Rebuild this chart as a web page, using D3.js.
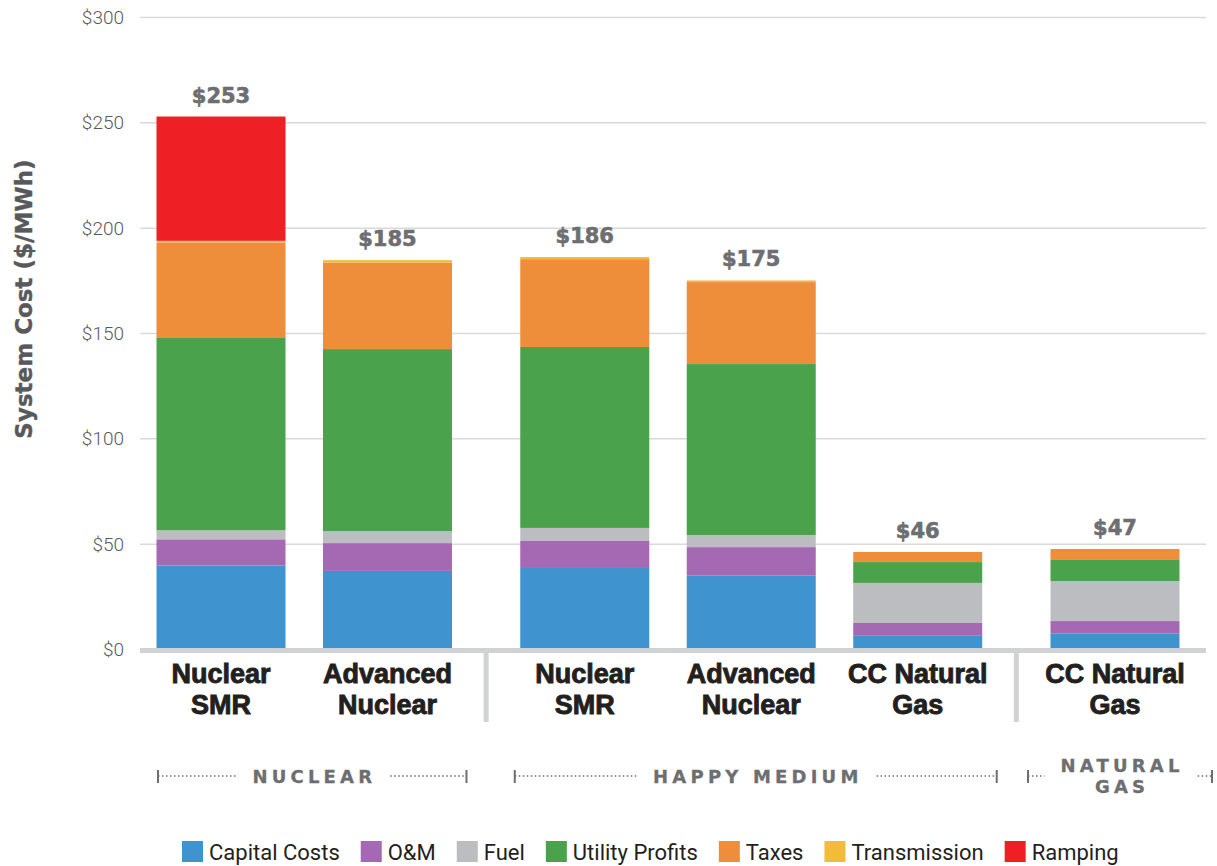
<!DOCTYPE html>
<html>
<head>
<meta charset="utf-8">
<script src="https://cdn.jsdelivr.net/npm/d3@7"></script>
<style>
  body { margin: 0; background: #fff; }
  svg { display: block; }
</style>
</head>
<body>
<div class="chart"></div>
<script>
// values ($/MWh)
var categories = [["Nuclear", "SMR"], ["Advanced", "Nuclear"], ["Nuclear", "SMR"],
                  ["Advanced", "Nuclear"], ["CC Natural", "Gas"], ["CC Natural", "Gas"]];
var groupOf = [0, 0, 1, 1, 1, 2];
var groupNames = [["NUCLEAR"], ["HAPPY MEDIUM"], ["NATURAL", "GAS"]];

var seriesNames = ["Capital Costs", "O&M", "Fuel", "Utility Profits", "Taxes", "Transmission", "Ramping"];
var seriesColors = ["#3f93cf", "#a569b4", "#bcbdc0", "#4aa34c", "#ee8e3a", "#f2bb3a", "#ee1f25"];

var capital      = [39.8, 37.3, 38.7, 35.2, 6.5, 7.5];
var om           = [12.5, 13.2, 12.8, 13.4, 6.1, 6.0];
var fuel         = [4.3, 5.7, 6.2, 5.7, 19.0, 19.0];
var utility      = [91.6, 86.4, 85.9, 81.2, 9.9, 10.0];
var taxes        = [45.0, 41.0, 41.7, 38.9, 4.8, 5.2];
var transmission = [0.8, 1.2, 1.0, 0.8, 0, 0];
var ramping      = [59.0, 0, 0, 0, 0, 0];

var totalLabels = ["$253", "$185", "$186", "$175", "$46", "$47"];
var yTicks = [0, 50, 100, 150, 200, 250, 300];

var W = 1217, H = 866;
var plotLeft = 140, plotRight = 1206;
var barWidth = 129;
var groupGap = 0.185;

var svg = d3.select(".chart").append("svg")
    .attr("width", W)
    .attr("height", H);

// build the table for d3.stack
var seriesData = [capital, om, fuel, utility, taxes, transmission, ramping];
var table = categories.map(function (c, i) {
    var row = { idx: i };
    seriesNames.forEach(function (s, k) { row[s] = seriesData[k][i]; });
    return row;
});
var stacked = d3.stack().keys(seriesNames)(table);

// x position: one slot per bar plus a gap between groups
var slot = categories.map(function (c, i) { return i + groupOf[i] * groupGap; });
var x = d3.scaleLinear()
    .domain([0, 5 + 2 * groupGap])
    .range([221, 1115]);
var y = d3.scaleLinear().domain([0, 300]).range([649.5, 17.5]);

// gridlines
svg.append("g").selectAll("line")
    .data(yTicks.filter(function (d) { return d > 0; }))
    .enter().append("line")
    .attr("x1", plotLeft).attr("x2", plotRight)
    .attr("y1", function (d) { return y(d); })
    .attr("y2", function (d) { return y(d); })
    .attr("stroke", "#d9d9d9")
    .attr("stroke-width", 1.5);

// y tick labels
var yAxis = svg.append("g")
    .attr("transform", "translate(124,0)")
    .call(d3.axisLeft(y).tickValues(yTicks).tickSize(0).tickPadding(0)
        .tickFormat(function (d) { return "$" + d; }));
yAxis.select(".domain").remove();
yAxis.selectAll("text")
    .attr("font-family", "Roboto, 'Liberation Sans', sans-serif")
    .attr("font-weight", 300)
    .attr("font-size", 19)
    .attr("fill", "#58595b");

// y title
svg.append("text")
    .attr("transform", "translate(32,299) rotate(-90)")
    .attr("text-anchor", "middle")
    .attr("font-family", "'DejaVu Sans', sans-serif")
    .attr("font-weight", "bold")
    .attr("font-size", 23)
    .attr("fill", "#58595b")
    .attr("stroke", "#58595b")
    .attr("stroke-width", 0.4)
    .text("System Cost ($/MWh)");

// stacked bars
svg.append("g").selectAll("g")
    .data(stacked)
    .enter().append("g")
    .attr("fill", function (d, k) { return seriesColors[k]; })
    .selectAll("rect")
    .data(function (d) { return d; })
    .enter().append("rect")
    .attr("x", function (d) { return x(slot[d.data.idx]) - barWidth / 2; })
    .attr("width", barWidth)
    .attr("y", function (d) { return y(d[1]); })
    .attr("height", function (d) { return y(d[0]) - y(d[1]); });

// totals above bars
var totals = table.map(function (r) {
    return d3.sum(seriesNames, function (s) { return r[s]; });
});
svg.append("g").selectAll("text")
    .data(totalLabels)
    .enter().append("text")
    .attr("x", function (d, i) { return x(slot[i]); })
    .attr("y", function (d, i) { return y(totals[i]) - 14; })
    .attr("text-anchor", "middle")
    .attr("font-family", "'DejaVu Sans', sans-serif")
    .attr("font-weight", "bold")
    .attr("font-size", 21)
    .attr("fill", "#6d6e71")
    .attr("stroke", "#6d6e71")
    .attr("stroke-width", 0.6)
    .text(function (d) { return d; });

// baseline
svg.append("line")
    .attr("x1", plotLeft).attr("x2", plotRight)
    .attr("y1", y(0) + 1).attr("y2", y(0) + 1)
    .attr("stroke", "#d1d2d4")
    .attr("stroke-width", 5);

// group separators
var seps = [];
for (var i = 1; i < categories.length; i++) {
    if (groupOf[i] !== groupOf[i - 1]) seps.push((x(slot[i]) + x(slot[i - 1])) / 2);
}
svg.append("g").selectAll("line")
    .data(seps)
    .enter().append("line")
    .attr("x1", function (d) { return d; }).attr("x2", function (d) { return d; })
    .attr("y1", y(0) + 1).attr("y2", 722)
    .attr("stroke", "#d1d2d4")
    .attr("stroke-width", 5);

// category labels
var cat = svg.append("g").selectAll("text")
    .data(categories)
    .enter().append("text")
    .attr("text-anchor", "middle")
    .attr("font-family", "'Liberation Sans', Arial, sans-serif")
    .attr("font-weight", "bold")
    .attr("font-size", 27)
    .attr("fill", "#231f20")
    .attr("stroke", "#231f20")
    .attr("stroke-width", 0.9);
cat.selectAll("tspan")
    .data(function (d, i) { return d.map(function (t) { return { t: t, i: i }; }); })
    .enter().append("tspan")
    .attr("x", function (d) { return x(slot[d.i]); })
    .attr("y", function (d, k) { return 683 + k * 31; })
    .text(function (d) { return d.t; });

// group brackets (outward extension past the outer bars)
var bracketPad = [[-1.5, 14.5], [5.5, 14.5], [22.5, 32.5]];
var bracketY = 776;
groupNames.forEach(function (name, g) {
    var idx = d3.range(categories.length).filter(function (i) { return groupOf[i] === g; });
    var left = x(slot[idx[0]]) - barWidth / 2 - bracketPad[g][0];
    var right = x(slot[idx[idx.length - 1]]) + barWidth / 2 + bracketPad[g][1];
    var mid = (left + right) / 2;
    var bg = svg.append("g");

    var label = bg.append("text")
        .attr("text-anchor", "middle")
        .attr("font-family", "'DejaVu Sans', sans-serif")
        .attr("font-weight", "bold")
        .attr("font-size", 18)
        .attr("letter-spacing", 4.2)
        .attr("fill", "#6d6e71")
        .attr("stroke", "#6d6e71")
        .attr("stroke-width", 0.3);
    label.selectAll("tspan")
        .data(name)
        .enter().append("tspan")
        .attr("x", mid + 2.1)
        .attr("y", function (d, k) {
            return name.length === 1 ? bracketY + 7 : bracketY - 4 + k * 21;
        })
        .text(function (d) { return d; });

    var bb = label.node().getBBox();
    var tl = bb.x - 16, tr = bb.x + bb.width + 14;

    [[left, tl], [tr, right]].forEach(function (seg) {
        bg.append("line")
            .attr("x1", seg[0]).attr("x2", seg[1])
            .attr("y1", bracketY).attr("y2", bracketY)
            .attr("stroke", "#6d6e71")
            .attr("stroke-width", 1.6)
            .attr("stroke-dasharray", "1.5,2.5");
    });
    [left, right].forEach(function (cx) {
        bg.append("line")
            .attr("x1", cx).attr("x2", cx)
            .attr("y1", bracketY - 6).attr("y2", bracketY + 7)
            .attr("stroke", "#6d6e71")
            .attr("stroke-width", 2);
    });
});

// legend
var legend = svg.append("g");
var lx = 182;
seriesNames.forEach(function (s, k) {
    legend.append("rect")
        .attr("x", lx).attr("y", 841)
        .attr("width", 21).attr("height", 21)
        .attr("fill", seriesColors[k]);
    var t = legend.append("text")
        .attr("x", lx + 27).attr("y", 860)
        .attr("font-family", "Roboto, 'Liberation Sans', sans-serif")
        .attr("font-size", 22)
        .attr("fill", "#231f20")
        .text(s);
    lx += 27 + t.node().getComputedTextLength() + 21;
});
</script>
</body>
</html>
